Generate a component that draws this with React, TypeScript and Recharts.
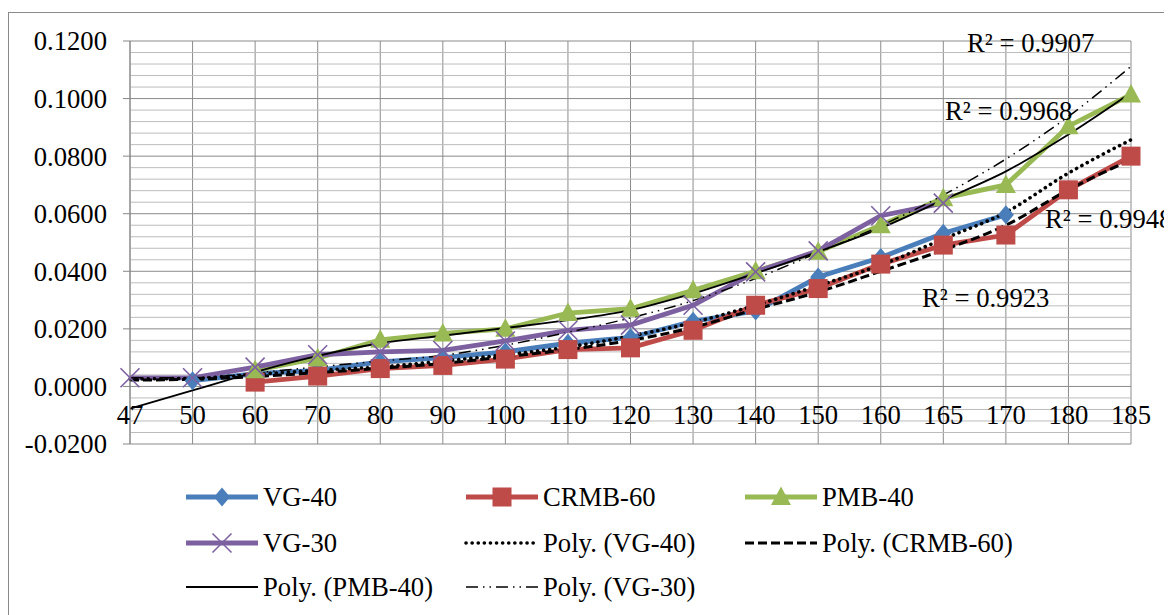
import React from 'react';
import { LineChart, Line, XAxis, YAxis, CartesianGrid, ReferenceLine } from 'recharts';

const categories = ['47', '50', '60', '70', '80', '90', '100', '110', '120', '130', '140', '150', '160', '165', '170', '180', '185'];

const vg40 = [null, 0.0020, 0.0044, 0.0056, 0.0085, 0.0100, 0.0120, 0.0150, 0.0170, 0.0226, 0.0262, 0.0380, 0.0448, 0.0532, 0.0596, null, null];
const crmb60 = [null, null, 0.0015, 0.0036, 0.0062, 0.0073, 0.0095, 0.0128, 0.0134, 0.0195, 0.0282, 0.0340, 0.0425, 0.0491, 0.0526, 0.0683, 0.0800];
const pmb40 = [null, null, 0.0056, 0.0098, 0.0162, 0.0184, 0.0200, 0.0255, 0.0270, 0.0334, 0.0400, 0.0468, 0.0560, 0.0654, 0.0700, 0.0904, 0.1014];
const vg30 = [0.0030, 0.0030, 0.0067, 0.0110, 0.0120, 0.0125, 0.0158, 0.0195, 0.0213, 0.0282, 0.0398, 0.0471, 0.0593, 0.0637, null, null, null];

const polyVg40 = [0.0026, 0.0028, 0.0042, 0.0056, 0.0068, 0.0088, 0.0110, 0.0137, 0.0175, 0.0222, 0.0282, 0.0350, 0.0422, 0.0512, 0.0605, 0.0741, 0.0857];
const polyCrmb60 = [0.0022, 0.0025, 0.0034, 0.0048, 0.0063, 0.0080, 0.0103, 0.0128, 0.0160, 0.0205, 0.0268, 0.0328, 0.0400, 0.0474, 0.0560, 0.0683, 0.0788];
const polyPmb40 = [-0.0077, -0.0014, 0.0050, 0.0106, 0.0150, 0.0176, 0.0203, 0.0230, 0.0265, 0.0323, 0.0393, 0.0468, 0.0550, 0.0648, 0.0747, 0.0875, 0.1020];
const polyVg30 = [0.0030, 0.0030, 0.0047, 0.0068, 0.0088, 0.0108, 0.0143, 0.0188, 0.0238, 0.0298, 0.0375, 0.0465, 0.0558, 0.0665, 0.0790, 0.0938, 0.1112];

const yTicks = [-0.02, 0, 0.02, 0.04, 0.06, 0.08, 0.1, 0.12];
const yMinorTicks = [-0.016, -0.012, -0.008, -0.004, 0.004, 0.008, 0.012, 0.016, 0.024, 0.028, 0.032, 0.036, 0.044, 0.048, 0.052, 0.056, 0.064, 0.068, 0.072, 0.076, 0.084, 0.088, 0.092, 0.096, 0.104, 0.108, 0.112, 0.116];

const rSquaredLabels = ['R² = 0.9907', 'R² = 0.9968', 'R² = 0.9948', 'R² = 0.9923'];

const data = categories.map((c, i) => ({
  cat: c,
  vg40: vg40[i],
  crmb60: crmb60[i],
  pmb40: pmb40[i],
  vg30: vg30[i],
  polyVg40: polyVg40[i],
  polyCrmb60: polyCrmb60[i],
  polyPmb40: polyPmb40[i],
  polyVg30: polyVg30[i],
}));

const BLUE = '#4a7ebb';
const RED = '#be4b48';
const GREEN = '#98b954';
const PURPLE = '#7d60a0';
const FONT = '"Liberation Serif", "Times New Roman", serif';
const FS = 26.67;

function Marker({ shape, color, cx, cy }: any) {
  if (shape === 'diamond') {
    return <polygon points={`${cx},${cy - 9.5} ${cx + 8},${cy} ${cx},${cy + 9.5} ${cx - 8},${cy}`} fill={color} />;
  }
  if (shape === 'square') {
    return <rect x={cx - 9.5} y={cy - 9.5} width={19} height={19} fill={color} />;
  }
  if (shape === 'triangle') {
    return <polygon points={`${cx},${cy - 10.5} ${cx + 10},${cy + 8} ${cx - 10},${cy + 8}`} fill={color} />;
  }
  if (shape === 'x') {
    return (
      <g stroke={color} strokeWidth={1.6}>
        <line x1={cx - 9.5} y1={cy - 9.5} x2={cx + 9.5} y2={cy + 9.5} />
        <line x1={cx - 9.5} y1={cy + 9.5} x2={cx + 9.5} y2={cy - 9.5} />
      </g>
    );
  }
  return null;
}

const makeDot = (shape: string, color: string) => (props: any) => {
  const { cx, cy, key, value } = props;
  if (cx == null || cy == null || value == null || isNaN(cy)) return <g key={key} />;
  return (
    <g key={key}>
      <Marker shape={shape} color={color} cx={cx} cy={cy} />
    </g>
  );
};

const XTick = (props: any) => {
  const { x, y, payload } = props;
  return (
    <text x={x} y={y - 20} textAnchor="middle" fill="#000" fontSize={FS} fontFamily={FONT}>
      {payload.value}
    </text>
  );
};

const seriesLegend = [
  { name: 'VG-40', color: BLUE, width: 4.8, dash: undefined, cap: 'butt', marker: 'diamond' },
  { name: 'CRMB-60', color: RED, width: 4.8, dash: undefined, cap: 'butt', marker: 'square' },
  { name: 'PMB-40', color: GREEN, width: 4.8, dash: undefined, cap: 'butt', marker: 'triangle' },
  { name: 'VG-30', color: PURPLE, width: 4.8, dash: undefined, cap: 'butt', marker: 'x' },
  { name: 'Poly. (VG-40)', color: '#000', width: 3.6, dash: '0.1 6', cap: 'round', marker: null },
  { name: 'Poly. (CRMB-60)', color: '#000', width: 3, dash: '9 4', cap: 'butt', marker: null },
  { name: 'Poly. (PMB-40)', color: '#000', width: 1.8, dash: undefined, cap: 'butt', marker: null },
  { name: 'Poly. (VG-30)', color: '#000', width: 1.5, dash: '12 5 1.5 5 1.5 5', cap: 'butt', marker: null },
];

const legendCols = [186, 466, 745];
const legendRows = [497, 543, 587];

export default function App() {
  return (
    <div
      style={{
        position: 'relative',
        marginTop: 4,
        width: 1164,
        height: 607,
        borderTop: '1px solid #8a8a8a',
        borderLeft: '1px solid #8a8a8a',
        boxSizing: 'border-box',
        fontFamily: FONT,
        background: '#fff',
      }}
    >
      <div style={{ position: 'absolute', left: 0, top: 0 }}>
        <LineChart
          width={1160}
          height={460}
          data={data}
          margin={{ top: 28, right: 38, left: 0, bottom: 20 }}
          style={{ fontFamily: FONT }}
        >
          <CartesianGrid horizontal={false} vertical={true} stroke="#8c8c8c" strokeWidth={1} />
          {yMinorTicks.map((v) => (
            <ReferenceLine key={'m' + v} y={v} stroke="#bcbcbc" strokeWidth={1} />
          ))}
          {yTicks.map((v) => (
            <ReferenceLine key={'M' + v} y={v} stroke="#8a8a8a" strokeWidth={1} />
          ))}
          <XAxis
            dataKey="cat"
            scale="point"
            padding={{ left: 0, right: 0 }}
            interval={0}
            height={9}
            tickSize={0}
            tickMargin={0}
            tickLine={false}
            axisLine={false}
            tick={<XTick />}
          />
          <YAxis
            domain={[-0.02, 0.12]}
            ticks={yTicks}
            width={121}
            tickSize={7}
            tickMargin={16}
            interval={0}
            axisLine={{ stroke: '#868686' }}
            tickLine={{ stroke: '#868686' }}
            tickFormatter={(v: number) => v.toFixed(4)}
            tick={{ fill: '#000', fontSize: FS, fontFamily: FONT }}
          />
          <Line dataKey="vg40" stroke={BLUE} strokeWidth={4.8} dot={makeDot('diamond', BLUE)} activeDot={false} isAnimationActive={false} type="linear" />
          <Line dataKey="crmb60" stroke={RED} strokeWidth={4.8} dot={makeDot('square', RED)} activeDot={false} isAnimationActive={false} type="linear" />
          <Line dataKey="pmb40" stroke={GREEN} strokeWidth={4.8} dot={makeDot('triangle', GREEN)} activeDot={false} isAnimationActive={false} type="linear" />
          <Line dataKey="vg30" stroke={PURPLE} strokeWidth={4.8} dot={makeDot('x', PURPLE)} activeDot={false} isAnimationActive={false} type="linear" />
          <Line dataKey="polyVg40" stroke="#000" strokeWidth={3.6} strokeDasharray="0.1 6" strokeLinecap="round" dot={false} activeDot={false} isAnimationActive={false} type="monotone" />
          <Line dataKey="polyCrmb60" stroke="#000" strokeWidth={3} strokeDasharray="9 4" dot={false} activeDot={false} isAnimationActive={false} type="monotone" />
          <Line dataKey="polyPmb40" stroke="#000" strokeWidth={1.8} dot={false} activeDot={false} isAnimationActive={false} type="monotone" />
          <Line dataKey="polyVg30" stroke="#000" strokeWidth={1.5} strokeDasharray="12 5 1.5 5 1.5 5" dot={false} activeDot={false} isAnimationActive={false} type="monotone" />
        </LineChart>
      </div>

      <svg width={1164} height={607} style={{ position: 'absolute', left: 0, top: 0, pointerEvents: 'none' }}>
        <g fontFamily={FONT} fontSize={FS} fill="#000">
          <text x={967 - 9} y={52 - 13}>{rSquaredLabels[0]}</text>
          <text x={945 - 9} y={120 - 13}>{rSquaredLabels[1]}</text>
          <text x={1045 - 9} y={228 - 13}>{rSquaredLabels[2]}</text>
          <text x={922 - 9} y={307 - 13}>{rSquaredLabels[3]}</text>
        </g>
        <g fontFamily={FONT} fontSize={FS} fill="#000">
          {seriesLegend.map((s, i) => {
            const col = i % 3;
            const row = Math.floor(i / 3);
            const x0 = legendCols[col] - 9;
            const cy = legendRows[row] - 13;
            return (
              <g key={s.name}>
                <line
                  x1={x0}
                  y1={cy}
                  x2={x0 + 72}
                  y2={cy}
                  stroke={s.color}
                  strokeWidth={s.width}
                  strokeDasharray={s.dash}
                  strokeLinecap={s.cap as any}
                />
                {s.marker ? <Marker shape={s.marker} color={s.color} cx={x0 + 36} cy={cy} /> : null}
                <text x={x0 + 77} y={cy + 9}>{s.name}</text>
              </g>
            );
          })}
        </g>
      </svg>
    </div>
  );
}
